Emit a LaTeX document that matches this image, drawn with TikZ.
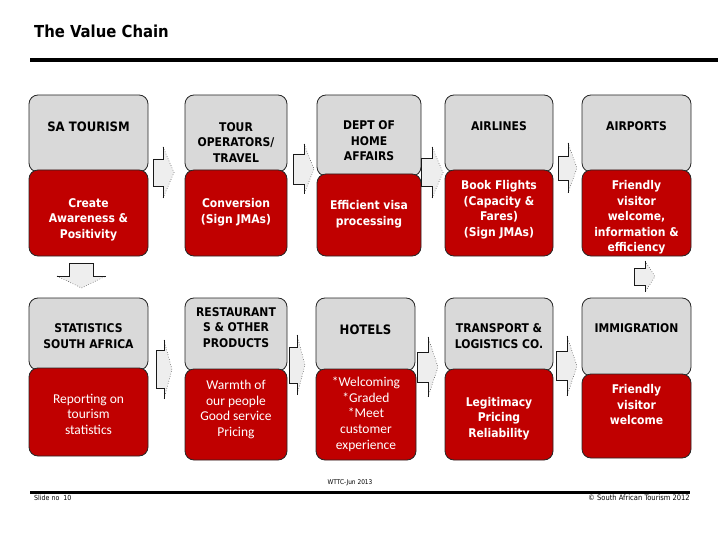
\documentclass[tikz,border=0pt]{standalone}
\usepackage{fontspec}
\setmainfont{DejaVu Sans Condensed}
\newfontfamily\carl{Carlito}
\definecolor{gboxc}{HTML}{D9D9D9}
\definecolor{rboxc}{HTML}{C00000}
\definecolor{arrc}{HTML}{EEEEEE}
\tikzset{
 gbox/.style={draw=black!85, fill=gboxc, rounded corners=9pt, line width=0.8pt, inner sep=0pt},
 rbox/.style={draw=black!85, fill=rboxc, rounded corners=9pt, line width=0.8pt, inner sep=0pt},
 gtxt/.style={font=\bfseries\fontsize{12}{15.5}\selectfont, align=center, text=black, inner sep=0pt},
 rtxt/.style={font=\bfseries\fontsize{12}{15.5}\selectfont, align=center, text=white, inner sep=0pt},
 ltxt/.style={font=\carl\fontsize{13.5}{15.6}\selectfont, align=center, text=white, inner sep=0pt},
 foot/.style={font=\fontsize{7}{8}\selectfont, inner sep=0pt},
 arrfill/.style={fill=arrc},
 arrline/.style={draw=black!90, line width=0.5pt},
 arrdot/.style={draw=black!90, line width=0.5pt, dotted},
}
% right block arrow: x0, x head base, x tip, y mid, half head height, half shaft height
\newcommand\rblock[6]{%
 \fill[arrfill] (#1,{#4-#6}) -- (#2,{#4-#6}) -- (#2,{#4-#5}) -- (#3,#4) -- (#2,{#4+#5}) -- (#2,{#4+#6}) -- (#1,{#4+#6}) -- cycle;
 \draw[arrline] (#2,{#4-#5}) -- (#2,{#4-#6}) -- (#1,{#4-#6}) -- (#1,{#4+#6}) -- (#2,{#4+#6}) -- (#2,{#4+#5});
 \draw[arrdot] (#2,{#4-#5}) -- (#3,#4) -- (#2,{#4+#5});
}
\begin{document}
\begin{tikzpicture}[x=1pt,y=-1pt]
\useasboundingbox (0,0) rectangle (720,540);
\fill[white] (0,0) rectangle (720,540);
% title
\node[anchor=base west, font=\bfseries\fontsize{16.5}{19}\selectfont, inner sep=0pt] (title) at (34,38) {The Value Chain};
\draw[line width=3.5pt] (30,60) -- (718,60);

% ---------- row 1 ----------
\node[gbox, minimum width=119pt, minimum height=77pt] (g1) at (88.5,133.5) {};
\node[rbox, minimum width=119pt, minimum height=86pt] (r1) at (88.5,213) {};
\node[gbox, minimum width=102pt, minimum height=77pt] (g2) at (236,133.5) {};
\node[rbox, minimum width=102pt, minimum height=86pt] (r2) at (236,213) {};
\node[gbox, minimum width=104pt, minimum height=81pt] (g3) at (369,135.5) {};
\node[rbox, minimum width=104pt, minimum height=82pt] (r3) at (369,215) {};
\node[gbox, minimum width=108pt, minimum height=77pt] (g4) at (499,133.5) {};
\node[rbox, minimum width=108pt, minimum height=86pt] (r4) at (499,213) {};
\node[gbox, minimum width=109pt, minimum height=77pt] (g5) at (636.5,133.5) {};
\node[rbox, minimum width=109pt, minimum height=86pt] (r5) at (636.5,213) {};

\node[gtxt, font=\bfseries\fontsize{13}{15.5}\selectfont] (tg1) at (88.5,127) {SA TOURISM};
\node[gtxt] (tg2) at (236,142.5) {TOUR\\OPERATORS/\\TRAVEL};
\node[gtxt] (tg3) at (369,141) {DEPT OF\\HOME\\AFFAIRS};
\node[gtxt] (tg4) at (499,126) {AIRLINES};
\node[gtxt] (tg5) at (636.5,126) {AIRPORTS};

\node[rtxt] (tr1) at (88.5,219.5) {Create\\Awareness \&\\Positivity};
\node[rtxt] (tr2) at (236,212) {Conversion\\(Sign JMAs)};
\node[rtxt] (tr3) at (369,214) {Efficient visa\\processing};
\node[rtxt] (tr4) at (499,209.5) {Book Flights\\(Capacity \&\\Fares)\\(Sign JMAs)};
\node[rtxt] (tr5) at (636.5,217.5) {Friendly\\visitor\\welcome,\\information \&\\efficiency};

% ---------- row 2 ----------
\node[gbox, minimum width=119pt, minimum height=72pt] (h1) at (88.5,334) {};
\node[rbox, minimum width=119pt, minimum height=88pt] (s1) at (88.5,412) {};
\node[gbox, minimum width=102pt, minimum height=73pt] (h2) at (236,334.5) {};
\node[rbox, minimum width=102pt, minimum height=91pt] (s2) at (236,414.5) {};
\node[gbox, minimum width=99pt, minimum height=73pt] (h3) at (365.5,334.5) {};
\node[rbox, minimum width=100pt, minimum height=91pt] (s3) at (366,414.5) {};
\node[gbox, minimum width=108pt, minimum height=73pt] (h4) at (499,334.5) {};
\node[rbox, minimum width=108pt, minimum height=91pt] (s4) at (499,414.5) {};
\node[gbox, minimum width=109pt, minimum height=78pt] (h5) at (636.5,337) {};
\node[rbox, minimum width=109pt, minimum height=84pt] (s5) at (636.5,416) {};

\node[gtxt] (th1) at (88.5,336) {STATISTICS\\SOUTH AFRICA};
\node[gtxt] (th2) at (236,327.5) {RESTAURANT\\S \& OTHER\\PRODUCTS};
\node[gtxt, font=\bfseries\fontsize{13}{15.5}\selectfont] (th3) at (365.5,330) {HOTELS};
\node[gtxt] (th4) at (499,336) {TRANSPORT \&\\LOGISTICS CO.};
\node[gtxt] (th5) at (636.5,328) {IMMIGRATION};

\node[ltxt] (ts1) at (88.5,414) {Reporting on\\tourism\\statistics};
\node[ltxt] (ts2) at (236,409.5) {Warmth of\\our people\\Good service\\Pricing};
\node[ltxt, anchor=north] (ts3) at (366,377) {*Welcoming\\*Graded\\*Meet\\customer\\experience};
\node[rtxt] (ts4) at (499,418.5) {Legitimacy\\Pricing\\Reliability};
\node[rtxt] (ts5) at (636.5,405) {Friendly\\visitor\\welcome};

% ---------- block arrows ----------
\rblock{153}{163}{174}{172.5}{25.5}{13.5}
\rblock{293}{304}{314}{169}{25}{15}
\rblock{421}{432}{443}{172.5}{25.5}{14}
\rblock{558}{568}{577}{168}{25}{12}
\rblock{634}{645}{655}{276.5}{15.5}{8.5}

\rblock{156}{164}{172}{369.5}{29.5}{19}
\rblock{289}{297}{305}{365}{30}{18}
\rblock{417}{428}{438}{367}{30}{15}
\rblock{556}{567}{577}{366}{30}{14.5}

% down arrow
\fill[arrfill] (69,263) -- (93,263) -- (93,276) -- (106,276) -- (81.5,288) -- (57,276) -- (69,276) -- cycle;
\draw[arrline] (57,276) -- (69,276) -- (69,263) -- (93,263) -- (93,276) -- (106,276);
\draw[arrdot] (57,276) -- (81.5,288) -- (106,276);

% ---------- footer ----------
\node[foot, font=\fontsize{6.5}{7}\selectfont] (wttc) at (350,483) {WTTC-Jun 2013};
\draw[line width=3pt] (30,492) -- (690,492);
\node[foot, anchor=west] (slide) at (34,498) {Slide no\ \ 10};
\node[foot, anchor=east, font=\fontsize{7.5}{8}\selectfont] (copy) at (690,498) {© South African Tourism 2012};
\end{tikzpicture}
\end{document}
